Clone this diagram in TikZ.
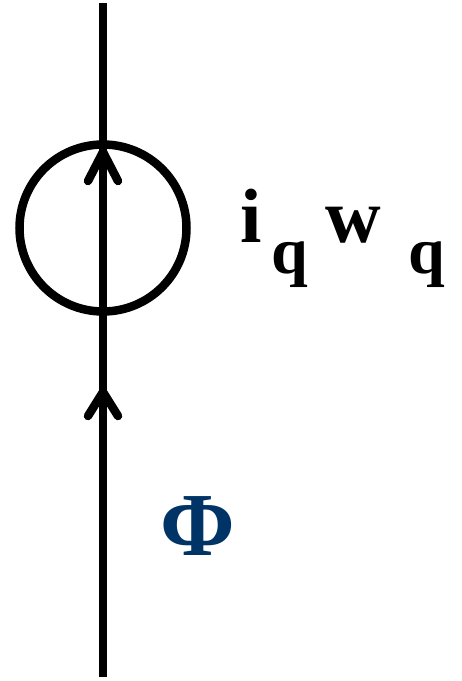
\documentclass[tikz,border=0pt]{standalone}
\usepackage{fontspec}
\setmainfont{Liberation Serif}
\definecolor{phiblue}{RGB}{0,51,102}
\tikzset{
  wire/.style={line width=8.5pt, line cap=butt},
  chev/.style={line width=8.5pt, line cap=round, line join=round},
  lbl/.style={inner sep=0pt, font=\fontsize{77}{84}\selectfont\bfseries},
  sub/.style={inner sep=0pt, font=\fontsize{66}{72}\selectfont\bfseries},
}
\begin{document}
\begin{tikzpicture}[x=1pt,y=-1pt]
\useasboundingbox (0,0) rectangle (462,681);
\coordinate (bot) at (103,677);
\coordinate (top) at (103,3);
\draw[wire] (bot) -- (top);
\node[circle, draw, line width=8.5pt, minimum size=167pt, inner sep=0pt] (c) at (103,228) {};
\coordinate (a1) at (103,152);
\coordinate (a1l) at (88,181);
\coordinate (a1r) at (118,181);
\draw[chev] (a1l) -- (a1) -- (a1r);
\coordinate (a2) at (103,392);
\coordinate (a2l) at (88,416);
\coordinate (a2r) at (118,416);
\draw[chev] (a2l) -- (a2) -- (a2r);
\node[lbl, anchor=base west] (i) at (240,242) {i};
\node[sub, anchor=base west] (q1) at (271,273) {q};
\node[lbl, anchor=base west] (w) at (325,242) {w};
\node[sub, anchor=base west] (q2) at (408,273) {q};
\node[inner sep=0pt, anchor=base, text=phiblue, font=\fontsize{90}{100}\selectfont\bfseries] (phi) at (198,555) {Φ};
\end{tikzpicture}
\end{document}
